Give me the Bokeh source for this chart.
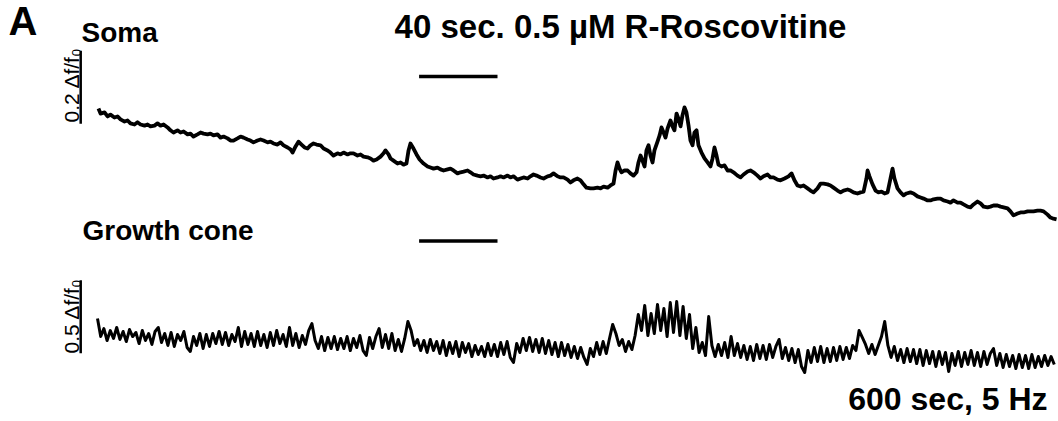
import math
from bokeh.plotting import figure
from bokeh.models import Range1d, Label
from bokeh.embed import file_html
from bokeh.resources import INLINE

# ---------------- data ----------------
# Soma trace: time (s) and delta f / f0
soma_t = [0.6, 1.9, 4.4, 6.3, 8.1, 10.6, 12.5, 14.4, 16.9, 18.8, 20.6, 23.1, 25.0, 26.9, 29.4, 31.3,
          33.1, 35.6, 37.5, 39.4, 41.3, 43.8, 45.6, 47.5, 50.0, 51.9, 53.8, 56.3, 58.1, 60.0, 62.5,
          64.4, 66.3, 68.8, 70.6, 72.5, 75.0, 76.9, 78.8, 81.3, 83.1, 85.0, 87.5, 89.4, 91.3, 93.8,
          95.6, 97.5, 100.0, 101.9, 103.8, 106.3, 108.1, 110.0, 112.5, 114.4, 116.3, 118.8, 120.6,
          121.9, 123.8, 125.6, 127.5, 129.4, 131.3, 133.1, 135.0, 136.9, 139.4, 141.3, 143.8, 145.6,
          147.5, 150.0, 151.9, 153.8, 156.3, 158.1, 160.0, 162.5, 164.4, 166.3, 168.8, 170.6, 172.5,
          174.4, 176.9, 178.8, 180.0, 181.9, 183.1, 185.0, 187.5, 189.4, 191.3, 193.1, 194.4, 195.6,
          197.5, 199.4, 201.3, 203.8, 206.3, 208.1, 210.0, 212.5, 214.4, 216.3, 218.8, 220.6, 222.5,
          225.0, 226.9, 228.8, 231.3, 233.1, 235.0, 237.5, 239.4, 241.3, 243.8, 245.6, 247.5, 250.0,
          251.9, 253.8, 256.3, 258.1, 260.0, 262.5, 264.4, 266.3, 268.8, 270.6, 272.5, 274.4, 276.9,
          278.8, 281.3, 283.1, 285.0, 287.5, 289.4, 291.3, 293.8, 295.6, 297.5, 300.0, 301.9, 303.8,
          305.6, 308.1, 310.0, 312.5, 314.4, 316.3, 318.8, 320.6, 322.5, 323.8, 325.0, 326.3, 327.5,
          329.4, 331.3, 333.1, 335.0, 336.9, 338.1, 339.4, 340.6, 341.9, 343.1, 344.4, 345.6, 346.9,
          348.1, 350.0, 351.3, 352.5, 353.8, 355.0, 356.3, 358.1, 359.4, 360.6, 361.9, 363.1, 364.4,
          365.6, 366.9, 368.1, 369.4, 370.6, 371.9, 373.1, 374.4, 375.6, 377.5, 379.4, 381.3, 383.1,
          384.4, 385.6, 386.9, 388.1, 390.0, 391.9, 393.8, 395.6, 397.5, 400.0, 401.9, 403.8, 406.3,
          408.1, 410.0, 412.5, 414.4, 416.3, 418.8, 420.6, 422.5, 425.0, 426.9, 429.4, 431.9, 433.8,
          435.6, 437.5, 439.4, 441.3, 443.8, 445.6, 447.5, 450.0, 451.9, 453.8, 456.3, 458.1, 460.0,
          462.5, 464.4, 466.3, 468.8, 470.6, 472.5, 475.0, 476.9, 478.8, 480.6, 481.3, 482.5, 484.4,
          486.3, 488.1, 490.0, 491.9, 493.8, 495.6, 496.9, 498.1, 500.0, 501.9, 503.8, 505.6, 508.1,
          510.0, 512.5, 514.4, 516.3, 518.8, 520.6, 522.5, 525.0, 526.9, 528.8, 531.3, 533.1, 535.0,
          537.5, 539.4, 541.3, 543.8, 545.6, 547.5, 550.0, 551.9, 553.8, 556.3, 558.1, 560.0, 562.5,
          564.4, 566.3, 568.8, 570.6, 572.5, 575.0, 576.9, 578.8, 581.3, 583.1, 585.0, 587.5, 589.4,
          591.3, 593.8, 595.6, 597.5, 599.4]
soma_dff = [0.307, 0.293, 0.296, 0.285, 0.290, 0.282, 0.285, 0.277, 0.271, 0.274, 0.266, 0.263, 0.269,
            0.263, 0.260, 0.263, 0.258, 0.260, 0.266, 0.260, 0.263, 0.255, 0.247, 0.241, 0.247, 0.241,
            0.244, 0.236, 0.238, 0.230, 0.236, 0.241, 0.238, 0.236, 0.238, 0.233, 0.236, 0.227, 0.230,
            0.225, 0.219, 0.219, 0.225, 0.230, 0.227, 0.222, 0.219, 0.214, 0.219, 0.222, 0.219, 0.214,
            0.216, 0.211, 0.208, 0.214, 0.206, 0.200, 0.195, 0.186, 0.203, 0.216, 0.208, 0.200, 0.197,
            0.206, 0.211, 0.208, 0.206, 0.197, 0.192, 0.186, 0.178, 0.184, 0.181, 0.186, 0.181, 0.184,
            0.184, 0.178, 0.181, 0.175, 0.173, 0.170, 0.164, 0.167, 0.175, 0.184, 0.192, 0.181, 0.170,
            0.164, 0.156, 0.159, 0.153, 0.156, 0.192, 0.211, 0.197, 0.181, 0.167, 0.156, 0.148, 0.145,
            0.142, 0.145, 0.140, 0.137, 0.140, 0.142, 0.137, 0.129, 0.132, 0.134, 0.137, 0.132, 0.126,
            0.123, 0.121, 0.123, 0.118, 0.121, 0.115, 0.118, 0.121, 0.118, 0.123, 0.118, 0.121, 0.112,
            0.115, 0.118, 0.115, 0.121, 0.126, 0.123, 0.118, 0.115, 0.121, 0.123, 0.129, 0.121, 0.118,
            0.118, 0.112, 0.104, 0.110, 0.115, 0.110, 0.099, 0.090, 0.088, 0.088, 0.090, 0.088, 0.093,
            0.090, 0.096, 0.101, 0.137, 0.159, 0.142, 0.132, 0.137, 0.137, 0.129, 0.123, 0.132, 0.159,
            0.178, 0.164, 0.148, 0.192, 0.206, 0.178, 0.159, 0.192, 0.216, 0.233, 0.255, 0.241, 0.227,
            0.252, 0.274, 0.258, 0.247, 0.293, 0.279, 0.258, 0.288, 0.310, 0.296, 0.260, 0.219, 0.206,
            0.241, 0.247, 0.206, 0.186, 0.170, 0.159, 0.148, 0.170, 0.200, 0.178, 0.153, 0.148, 0.151,
            0.137, 0.137, 0.132, 0.123, 0.118, 0.126, 0.134, 0.137, 0.132, 0.123, 0.115, 0.121, 0.126,
            0.118, 0.118, 0.112, 0.110, 0.115, 0.121, 0.129, 0.110, 0.096, 0.093, 0.096, 0.088, 0.082,
            0.077, 0.088, 0.101, 0.101, 0.099, 0.096, 0.090, 0.082, 0.077, 0.082, 0.085, 0.082, 0.077,
            0.074, 0.077, 0.079, 0.115, 0.137, 0.121, 0.099, 0.082, 0.077, 0.079, 0.074, 0.077, 0.115,
            0.142, 0.115, 0.088, 0.077, 0.069, 0.074, 0.077, 0.074, 0.066, 0.063, 0.060, 0.055, 0.055,
            0.058, 0.060, 0.060, 0.055, 0.052, 0.049, 0.055, 0.049, 0.049, 0.044, 0.038, 0.036, 0.044,
            0.052, 0.047, 0.038, 0.036, 0.038, 0.041, 0.041, 0.038, 0.036, 0.033, 0.025, 0.014, 0.019,
            0.022, 0.022, 0.025, 0.025, 0.025, 0.027, 0.027, 0.025, 0.016, 0.008, 0.005, 0.003]

# Growth cone trace: one value every GC_DT seconds, delta f / f0
GC_DT = 2.0
gc_dff = [0.288, 0.164, 0.219, 0.137, 0.205, 0.151, 0.226, 0.144, 0.199, 0.130, 0.212, 0.164, 0.192,
          0.116, 0.205, 0.137, 0.185, 0.110, 0.199, 0.226, 0.123, 0.185, 0.103, 0.192, 0.096, 0.178,
          0.137, 0.199, 0.089, 0.062, 0.164, 0.103, 0.185, 0.082, 0.178, 0.096, 0.185, 0.116, 0.199,
          0.110, 0.192, 0.103, 0.178, 0.130, 0.226, 0.096, 0.199, 0.110, 0.185, 0.096, 0.199, 0.103,
          0.178, 0.089, 0.192, 0.103, 0.205, 0.116, 0.178, 0.096, 0.226, 0.103, 0.185, 0.089, 0.171,
          0.110, 0.205, 0.253, 0.137, 0.082, 0.164, 0.068, 0.158, 0.082, 0.164, 0.075, 0.151, 0.082,
          0.164, 0.068, 0.151, 0.089, 0.171, 0.068, 0.034, 0.158, 0.082, 0.164, 0.219, 0.089, 0.178,
          0.082, 0.185, 0.068, 0.144, 0.062, 0.151, 0.267, 0.205, 0.103, 0.144, 0.068, 0.137, 0.055,
          0.144, 0.068, 0.130, 0.048, 0.137, 0.034, 0.123, 0.048, 0.130, 0.027, 0.123, 0.055, 0.116,
          0.027, 0.103, 0.041, 0.096, 0.027, 0.116, 0.034, 0.110, 0.027, 0.123, 0.041, 0.130, 0.021,
          -0.014, 0.116, 0.055, 0.151, 0.068, 0.158, 0.062, 0.144, 0.055, 0.151, 0.048, 0.137, 0.041,
          0.123, 0.027, 0.123, 0.034, 0.110, 0.021, 0.096, 0.014, 0.089, 0.021, -0.027, 0.082, 0.027,
          0.123, 0.041, 0.130, 0.048, 0.151, 0.247, 0.185, 0.103, 0.144, 0.062, 0.130, 0.075, 0.171,
          0.315, 0.205, 0.377, 0.171, 0.322, 0.185, 0.384, 0.205, 0.356, 0.164, 0.397, 0.192, 0.404,
          0.171, 0.370, 0.151, 0.315, 0.082, 0.226, 0.055, 0.123, 0.034, 0.301, 0.103, 0.027, 0.110,
          0.034, 0.123, 0.021, 0.164, 0.034, 0.116, 0.021, 0.103, 0.007, 0.096, 0.000, 0.110, 0.014,
          0.103, 0.007, 0.110, 0.021, 0.096, 0.144, 0.014, 0.089, 0.000, 0.082, -0.014, 0.075, -0.041,
          -0.082, 0.068, -0.014, 0.089, -0.007, 0.096, -0.014, 0.082, -0.007, 0.089, 0.000, 0.096,
          0.007, 0.089, 0.014, 0.103, 0.068, 0.205, 0.158, 0.110, 0.048, 0.110, 0.041, 0.103, 0.164,
          0.267, 0.103, 0.021, 0.096, 0.000, 0.075, -0.014, 0.082, -0.007, 0.075, -0.021, 0.075, -0.034,
          0.068, -0.021, 0.062, -0.041, 0.062, -0.027, 0.055, -0.075, 0.048, -0.034, 0.062, -0.041,
          0.055, -0.027, 0.068, -0.034, 0.055, -0.041, 0.062, -0.027, 0.048, 0.082, -0.034, 0.048,
          -0.048, 0.041, -0.041, 0.034, -0.055, 0.041, -0.048, 0.034, -0.055, 0.041, -0.048, 0.027,
          -0.041, 0.034, -0.034, 0.027, -0.027]
gc_t = [GC_DT * i for i in range(len(gc_dff))]

# Drug application (s) and scale bar sizes (delta f / f0)
application = [201.0, 250.0]
soma_scale = 0.2
gc_scale = 0.5

# ---------------- figure ----------------
FONT = "Liberation Sans"
p = figure(width=1058, height=421, output_backend="svg", toolbar_location=None,
           x_range=Range1d(-60.625, 600.625), y_range=Range1d(-0.5507, 0.6027),
           x_axis_location=None, y_axis_location=None, min_border=0,
           outline_line_color=None, background_fill_color="white", border_fill_color="white")
p.grid.visible = False
p.extra_y_ranges = {"gc": Range1d(-0.4178, 2.4658)}

p.line(soma_t, soma_dff, line_width=3.8, color="black", line_join="round")
p.line(gc_t, gc_dff, y_range_name="gc", line_width=3.0, color="black", line_join="round")

# scale bars
bar_t = -10.5
soma_bar0 = 0.265
gc_bar0 = 0.05
p.segment(x0=[bar_t], y0=[soma_bar0], x1=[bar_t], y1=[soma_bar0 + soma_scale],
          line_width=2.5, color="black")
p.segment(x0=[bar_t], y0=[gc_bar0], x1=[bar_t], y1=[gc_bar0 + gc_scale],
          line_width=2.5, color="black", y_range_name="gc")

# drug application bars
p.segment(x0=[application[0]], y0=[0.3945], x1=[application[1]], y1=[0.3945],
          line_width=3.5, color="black")
p.segment(x0=[application[0]], y0=[0.818], x1=[application[1]], y1=[0.818],
          line_width=3.5, color="black", y_range_name="gc")

def lab(x, y, text, size, bold=True, align="left", angle=0.0, rng="default"):
    p.add_layout(Label(x=x, y=y, text=text, text_font=FONT, text_font_size=size,
                       text_font_style="bold" if bold else "normal", text_color="black",
                       text_align=align, text_baseline="alphabetic", angle=angle,
                       y_range_name=rng))

lab(-55.6, 0.5463, "A", "40px")
lab(-10.0, 0.5142, "Soma", "28px")
lab(326.9, 0.5320, "40 sec. 0.5 µM R-Roscovitine", "33px", align="center")
lab(-9.4, -0.0263, "Growth cone", "28px")
lab(593.75, -0.4893, "600 sec, 5 Hz", "32px", align="right")
lab(-16.4, 0.2685, "0.2 Δf/f₀", "21px", bold=False, angle=math.pi / 2)
lab(-16.4, 0.048, "0.5 Δf/f₀", "21px", bold=False, angle=math.pi / 2, rng="gc")

open("out.html", "w").write(file_html(p, INLINE))
